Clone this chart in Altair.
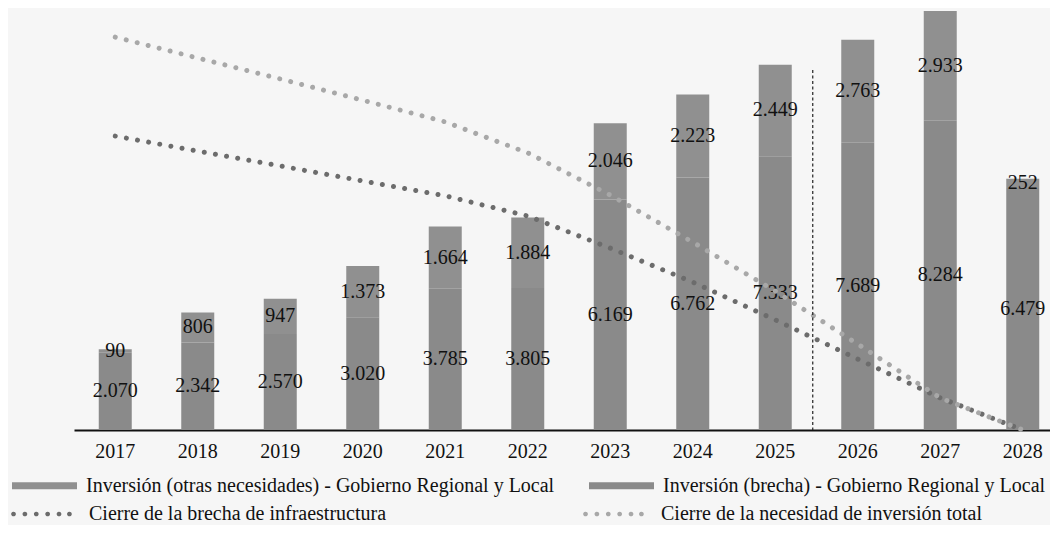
import altair as alt
import pandas as pd

# ---- data ----
years = ["2017", "2018", "2019", "2020", "2021", "2022",
         "2023", "2024", "2025", "2026", "2027", "2028"]
brecha = [2070, 2342, 2570, 3020, 3785, 3805, 6169, 6762, 7333, 7689, 8284, 6479]
otras = [90, 806, 947, 1373, 1664, 1884, 2046, 2223, 2449, 2763, 2933, 252]
cierre_brecha = [7870, 7470, 7070, 6670, 6270, 5730, 4870, 3960, 2950, 1900, 860, 0]
cierre_total = [10520, 9960, 9400, 8830, 8250, 7420, 6290, 5030, 3720, 2300, 860, 0]

SEG_OTRAS = "Inversión (otras necesidades) - Gobierno Regional y Local"
SEG_BRECHA = "Inversión (brecha) - Gobierno Regional y Local"
LINE_BRECHA = "Cierre de la brecha de infraestructura"
LINE_TOTAL = "Cierre de la necesidad de inversión total"

rule_year = ["2026"]
rule_top = [9640]

FONT = "Liberation Serif"

bars_df = pd.DataFrame({
    "year": years + years,
    "seg": [SEG_BRECHA] * len(years) + [SEG_OTRAS] * len(years),
    "value": brecha + otras,
    "order": [0] * len(years) + [1] * len(years),
    "mid": [b / 2 for b in brecha] + [b + o / 2 for b, o in zip(brecha, otras)],
})

lines_df = pd.DataFrame({
    "year": years + years,
    "series": [LINE_BRECHA] * len(years) + [LINE_TOTAL] * len(years),
    "value": cierre_brecha + cierre_total,
})

rule_df = pd.DataFrame({"year": rule_year, "top": rule_top, "bottom": [0]})

x_enc = alt.X(
    "year:N", sort=years, title=None,
    scale=alt.Scale(range=[0, 990], paddingInner=0.6, paddingOuter=0.3),
    axis=alt.Axis(labelFont=FONT, labelFontSize=20, labelColor="#111",
                  labelAngle=0, ticks=False, labelPadding=11,
                  domainColor="#111", domainWidth=2, grid=False),
)
y_scale = alt.Scale(domain=[0, 11300], nice=False, zero=True)

bar_path = "M-1,-0.11H1V0.11H-1Z"
r = 0.036
centers = [-1.0, -0.65, -0.3, 0.05, 0.4, 0.72]
dot_path = "".join(
    f"M{c - r:.3f},0a{r},{r} 0 1,0 {2 * r:.3f},0a{r},{r} 0 1,0 {-2 * r:.3f},0"
    for c in centers
)

bars = alt.Chart(bars_df).mark_bar().encode(
    x=x_enc,
    y=alt.Y("value:Q", stack="zero", scale=y_scale, axis=None),
    fill=alt.Fill(
        "seg:N",
        scale=alt.Scale(domain=[SEG_OTRAS, SEG_BRECHA], range=["#909090", "#8a8a8a"]),
        legend=alt.Legend(
            orient="none", legendX=-62, legendY=445, direction="horizontal",
            columns=2, columnPadding=34, labelLimit=1000, labelFont=FONT,
            labelFontSize=20, labelColor="#111", labelOffset=9,
            symbolType=bar_path, symbolSize=4225, symbolStrokeWidth=0,
            title=None, padding=0,
        ),
    ),
    order=alt.Order("order:Q"),
)

labels = alt.Chart(bars_df).transform_calculate(
    label="replace(format(datum.value, ','), ',', '.')"
).mark_text(font=FONT, fontSize=20, color="#111", align="center", baseline="middle").encode(
    x=x_enc,
    y=alt.Y("mid:Q", scale=y_scale, axis=None),
    text="label:N",
)

lines = alt.Chart(lines_df).mark_line(
    strokeWidth=5, strokeCap="round", strokeDash=[0.01, 11.3]
).encode(
    x=x_enc,
    y=alt.Y("value:Q", scale=y_scale, axis=None),
    stroke=alt.Stroke(
        "series:N",
        scale=alt.Scale(domain=[LINE_BRECHA, LINE_TOTAL], range=["#6c6c6c", "#a8a8a8"]),
        legend=alt.Legend(
            orient="none", legendX=-62, legendY=472, direction="horizontal",
            columns=2, columnPadding=192, labelLimit=1000, labelFont=FONT,
            labelFontSize=20, labelColor="#111", labelOffset=9,
            symbolType=dot_path, symbolSize=4225, symbolStrokeWidth=2.4,
            symbolDash=[1, 0], title=None, padding=0,
        ),
    ),
)

rule = alt.Chart(rule_df).mark_rule(
    color="#222", strokeWidth=1.2, strokeDash=[3, 2.5], xOffset=-45
).encode(
    x=x_enc,
    y=alt.Y("top:Q", scale=y_scale, axis=None),
    y2="bottom:Q",
)

chart = alt.layer(bars, labels, lines, rule).resolve_legend(
    fill="independent", stroke="independent"
).properties(
    width=976, height=422,
    autosize=alt.AutoSizeParams(type="none"),
    padding={"left": 66, "top": 0, "right": 0, "bottom": 95},
    background="#f6f6f6",
).configure_view(stroke=None)

chart.save("out.html", embed_options={"renderer": "svg", "actions": False})
